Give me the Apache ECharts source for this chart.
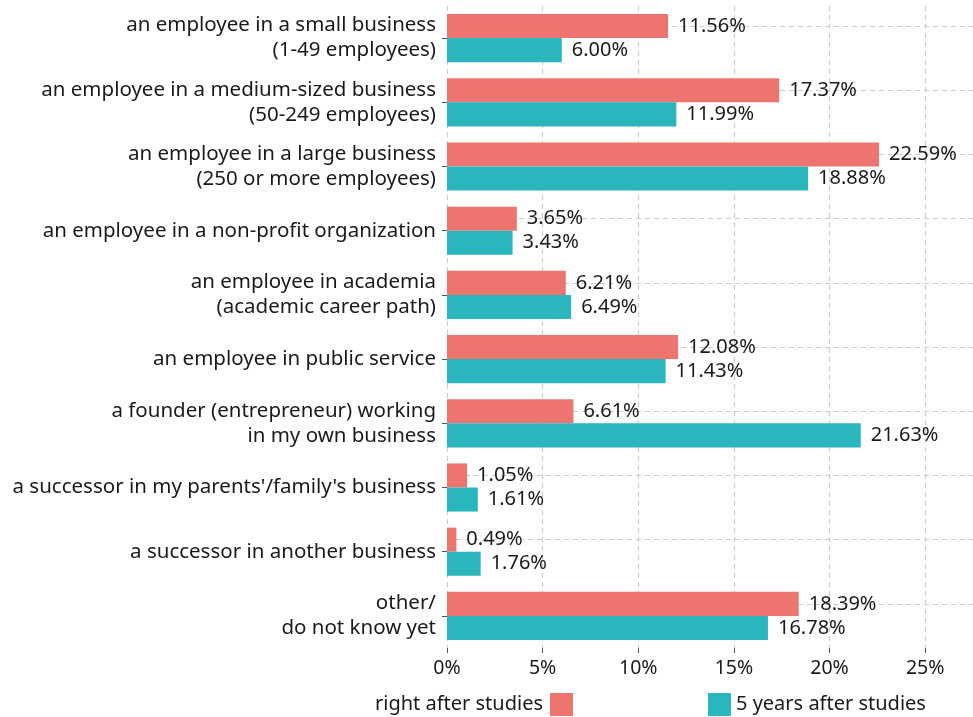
<!DOCTYPE html>
<html>
<head>
<meta charset="utf-8">
<script src="https://cdn.jsdelivr.net/npm/echarts@6/dist/echarts.min.js"></script>
<style>
  html, body { margin: 0; padding: 0; background: #fff; }
  #chart { width: 973px; height: 717px; }
</style>
</head>
<body>
<div id="chart"></div>
<script>
// Career plans: right after studies vs 5 years after studies (share of respondents, %)
const categories = [
  "an employee in a small business\n(1-49 employees)",
  "an employee in a medium-sized business\n(50-249 employees)",
  "an employee in a large business\n(250 or more employees)",
  "an employee in a non-profit organization",
  "an employee in academia\n(academic career path)",
  "an employee in public service",
  "a founder (entrepreneur) working\nin my own business",
  "a successor in my parents'/family's business",
  "a successor in another business",
  "other/\ndo not know yet"
];
const rightAfter = [11.56, 17.37, 22.59, 3.65, 6.21, 12.08, 6.61, 1.05, 0.49, 18.39];
const fiveYears = [6.00, 11.99, 18.88, 3.43, 6.49, 11.43, 21.63, 1.61, 1.76, 16.78];
const xTicks = [0, 5, 10, 15, 20, 25];

const FONT = "Noto Sans";
const TEXT = "#1a1a1a";
const GRID = "#cccccc";
const RED = "#ee746f";
const TEAL = "#29b6bd";

const chart = echarts.init(document.getElementById("chart"), null, { renderer: "canvas" });

function barSeries(name, data, color, withLines) {
  const s = {
    name,
    type: "bar",
    z: 3,
    data,
    barGap: "0%",
    barCategoryGap: "25%",
    itemStyle: { color },
    label: {
      show: true,
      position: "right",
      distance: 10,
      color: TEXT,
      fontFamily: FONT,
      fontSize: 20,
      formatter: (p) => p.value.toFixed(2) + "%"
    }
  };
  if (withLines) {
    // horizontal dashed guides through each category centre, drawn under the bars
    s.markLine = {
      silent: true,
      z: 1,
      symbol: "none",
      label: { show: false },
      lineStyle: { color: GRID, type: [5, 4], width: 1.2 },
      data: categories.map((c) => ({ yAxis: c }))
    };
  }
  return s;
}

chart.setOption({
  animation: false,
  textStyle: { fontFamily: FONT },
  grid: { left: 447, right: 0, top: 6, bottom: 69, containLabel: false },
  legend: [
    {
      data: ["right after studies"],
      align: "right",
      right: 395,
      top: 688,
      icon: "rect",
      itemWidth: 23,
      itemHeight: 23,
      itemGap: 0,
      textStyle: { color: TEXT, fontSize: 20, fontFamily: FONT, padding: [0, 2, 0, 0] }
    },
    {
      data: ["5 years after studies"],
      align: "left",
      left: 703,
      top: 688,
      icon: "rect",
      itemWidth: 23,
      itemHeight: 23,
      textStyle: { color: TEXT, fontSize: 20, fontFamily: FONT }
    }
  ],
  xAxis: {
    type: "value",
    min: 0,
    max: 27.5,
    interval: 5,
    axisLine: { show: false },
    axisTick: { show: true, length: 5, customValues: xTicks, lineStyle: { color: "#555" } },
    axisLabel: {
      color: TEXT,
      fontSize: 19.5,
      fontFamily: FONT,
      margin: 10,
      customValues: xTicks,
      formatter: (v) => v + "%"
    },
    splitLine: {
      show: true,
      lineStyle: {
        color: [GRID, GRID, GRID, GRID, GRID, GRID, "rgba(0,0,0,0)"],
        type: [5, 4],
        width: 1.2
      }
    }
  },
  yAxis: {
    type: "category",
    data: categories,
    inverse: true,
    axisLine: { show: false },
    axisTick: { show: true, alignWithLabel: true, length: 5, lineStyle: { color: "#555" } },
    axisLabel: {
      color: TEXT,
      fontSize: 20.5,
      fontFamily: FONT,
      margin: 11,
      lineHeight: 25,
      align: "right"
    },
    splitLine: { show: false }
  },
  series: [
    barSeries("right after studies", rightAfter, RED, true),
    barSeries("5 years after studies", fiveYears, TEAL, false)
  ]
});
</script>
</body>
</html>
